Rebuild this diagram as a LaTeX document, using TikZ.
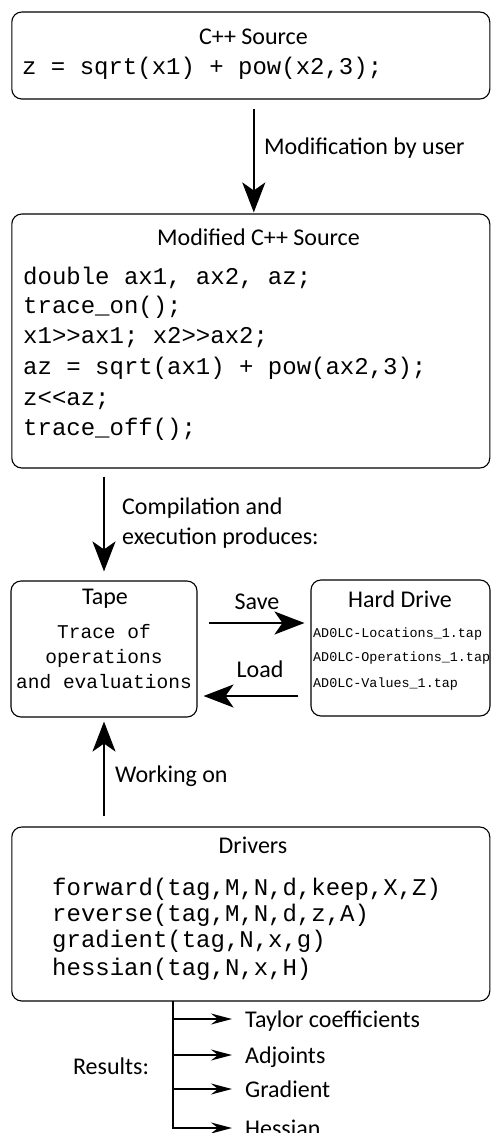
\documentclass[tikz,border=0pt]{standalone}
\usepackage{fontspec}
\setmainfont{Carlito}
\setmonofont{Liberation Mono}
\usetikzlibrary{arrows.meta}
\begin{document}
\begin{tikzpicture}[x=1pt,y=-1pt,
  box/.style={draw, rounded corners=10pt, line width=1.1pt, inner sep=0pt},
  lbl/.style={font=\fontsize{24}{24}\selectfont, inner sep=0pt, anchor=base, yshift=-7.5pt},
  lblw/.style={font=\fontsize{24}{24}\selectfont, inner sep=0pt, anchor=base west, yshift=-7.5pt},
  code/.style={font=\fontsize{24}{24}\selectfont\ttfamily, inner sep=0pt, anchor=base west, yshift=-7pt},
  tapecode/.style={font=\fontsize{19.5}{19.5}\selectfont\ttfamily, inner sep=0pt, anchor=base, yshift=-5.7pt},
  filecode/.style={font=\fontsize{13.4}{13.4}\selectfont\ttfamily, inner sep=0pt, anchor=base west, yshift=-4.2pt},
  reslbl/.style={font=\fontsize{24}{24}\selectfont, inner sep=0pt, anchor=west, text height=16pt, text depth=0pt},
  arr/.style={line width=2.2pt, -{Stealth[length=30pt, width=23pt, inset=8pt]}},
  arrsm/.style={line width=1.8pt, -{Stealth[length=21pt, width=11pt, inset=7pt]}},
  trunk/.style={line width=1.8pt}
]
\path[use as bounding box] (0,0) rectangle (491,1133);
\clip (0,0) rectangle (491,1133);

% boxes
\node[box, minimum width=478pt, minimum height=87pt] (b1) at (250.8,55.5) {};
\node[box, minimum width=478pt, minimum height=254pt] (b2) at (250.8,341) {};
\node[box, minimum width=186pt, minimum height=136pt] (tape) at (104,649) {};
\node[box, minimum width=179pt, minimum height=136pt] (hd) at (400.5,648) {};
\node[box, minimum width=478pt, minimum height=174pt] (drv) at (250.8,914) {};

% box 1
\node[lbl] (t1) at (253.5,37) {C++ Source};
\node[code] (c1) at (22,67) {z = sqrt(x1) + pow(x2,3);};

% box 2
\node[lbl] (t2) at (258.5,238) {Modified C++ Source};
\node[code] (c21) at (23,277) {double ax1, ax2, az;};
\node[code] (c22) at (23,306) {trace\_on();};
\node[code] (c23) at (23,336) {x1>>ax1; x2>>ax2;};
\node[code] (c24) at (23,367) {az = sqrt(ax1) + pow(ax2,3);};
\node[code] (c25) at (23,398) {z<<az;};
\node[code] (c26) at (23,428) {trace\_off();};

% tape
\node[lbl] (tt) at (105,597) {Tape};
\node[tapecode] (tc1) at (104,633) {Trace of};
\node[tapecode] (tc2) at (104,658) {operations};
\node[tapecode] (tc3) at (104,683) {and evaluations};

% hard drive
\node[lbl] (ht) at (400,600) {Hard Drive};
\node[filecode] (f1) at (313,633) {AD0LC-Locations\_1.tap};
\node[filecode] (f2) at (313,657) {AD0LC-Operations\_1.tap};
\node[filecode] (f3) at (313,683) {AD0LC-Values\_1.tap};

% drivers
\node[lbl] (dt) at (253,846) {Drivers};
\node[code] (d1) at (52,888) {forward(tag,M,N,d,keep,X,Z)};
\node[code] (d2) at (52,914) {reverse(tag,M,N,d,z,A)};
\node[code] (d3) at (52,940) {gradient(tag,N,x,g)};
\node[code] (d4) at (52,968) {hessian(tag,N,x,H)};

% arrow labels
\node[lblw] (l1) at (264,147) {Modification by user};
\node[lblw] (l2a) at (122,507) {Compilation and};
\node[lblw] (l2b) at (122,537) {execution produces:};
\node[lbl] (ls) at (257,602) {Save};
\node[lbl] (ll) at (260,670) {Load};
\node[lblw] (lw) at (115,775) {Working on};

% arrows
\draw[arr] ([xshift=3pt,yshift=-9pt]b1.south) -- ([xshift=3pt,yshift=1pt]b2.north);
\draw[arr] ([yshift=-8pt]tape.north |- b2.south) -- ([yshift=9pt]tape.north);
\draw[arr] ([xshift=11pt,yshift=26pt]tape.east) -- ([xshift=-6pt,yshift=26pt]tape.east -| hd.west);
\draw[arr] ([xshift=-12pt,yshift=-47pt]hd.west |- tape.east) -- ([xshift=6pt,yshift=-47pt]tape.east);
\draw[arr] ([yshift=10pt]tape.south |- drv.north) -- ([yshift=-4pt]tape.south);

% results
\node[lbl] (res) at (111,1067) {Results:};
\node[reslbl] (r1) at (245,1019) {Taylor coefficients};
\node[reslbl] (r2) at (245,1055) {Adjoints};
\node[reslbl] (r3) at (245,1089) {Gradient};
\node[reslbl] (r4) at (245,1128) {Hessian};
\coordinate (rtop) at (173,1001);
\draw[trunk] (rtop) -- ([yshift=-0.9pt]rtop |- r4.west);
\draw[arrsm] (rtop |- r1.west) -- ([xshift=-13pt]r1.west);
\draw[arrsm] (rtop |- r2.west) -- ([xshift=-13pt]r2.west);
\draw[arrsm] (rtop |- r3.west) -- ([xshift=-13pt]r3.west);
\draw[arrsm] ([xshift=-0.9pt]rtop |- r4.west) -- ([xshift=-13pt]r4.west);
\end{tikzpicture}
\end{document}
